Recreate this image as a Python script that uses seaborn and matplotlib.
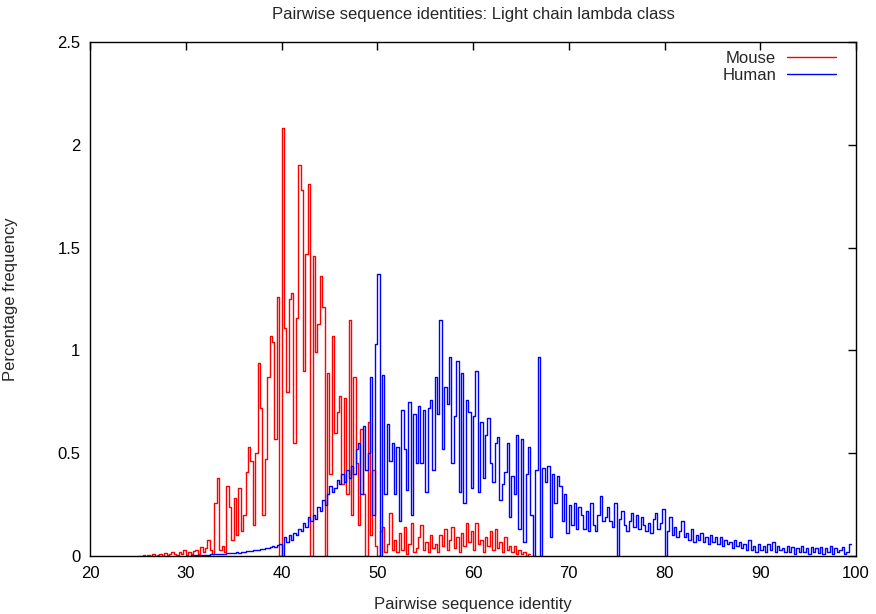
import numpy as np
import pandas as pd
import matplotlib
matplotlib.use("Agg")
import matplotlib.pyplot as plt
import seaborn as sns
from matplotlib.ticker import FuncFormatter

# Histogram bin layout (percent identity)
bin_width = 0.25
mouse_start = 25.0
human_start = 30.0

# Mouse: percentage frequency per bin, starting at 25%
mouse_freq = [
    0.0, 0.0, 0.005, 0.0, 0.005, 0.0, 0.01, 0.0,
    0.005, 0.01, 0.0, 0.015, 0.005, 0.01, 0.02, 0.01,
    0.005, 0.02, 0.01, 0.03, 0.005, 0.02, 0.01, 0.025,
    0.03, 0.01, 0.045, 0.02, 0.04, 0.08, 0.03, 0.01,
    0.26, 0.38, 0.03, 0.05, 0.02, 0.34, 0.24, 0.08,
    0.28, 0.10, 0.33, 0.12, 0.20, 0.41, 0.53, 0.46,
    0.15, 0.50, 0.94, 0.72, 0.20, 0.47, 0.87, 1.07,
    1.04, 0.57, 1.26, 0.00, 2.08, 1.11, 0.80, 1.25,
    1.28, 0.55, 1.16, 1.90, 1.78, 0.90, 1.47, 1.81,
    0.00, 1.46, 0.99, 1.13, 1.36, 1.21, 0.00, 0.89,
    0.40, 1.07, 0.60, 0.70, 0.78, 0.35, 0.77, 0.30,
    1.15, 0.20, 0.87, 0.45, 0.15, 0.62, 0.30, 0.00,
    0.65, 0.10, 0.42, 0.05, 0.00, 0.12, 0.14, 0.02,
    0.06, 0.21, 0.03, 0.08,
    0.02, 0.11, 0.03, 0.14, 0.01, 0.06, 0.16, 0.02,
    0.04, 0.09, 0.15, 0.03, 0.07, 0.02, 0.10, 0.04,
    0.06, 0.02, 0.10, 0.05, 0.13, 0.03, 0.08, 0.14,
    0.04, 0.09, 0.02, 0.11, 0.05, 0.16, 0.07, 0.12,
    0.03, 0.16, 0.06, 0.08, 0.02, 0.09, 0.05, 0.12,
    0.03, 0.13, 0.04, 0.07, 0.02, 0.09, 0.03, 0.05,
    0.02, 0.05, 0.01, 0.03, 0.01, 0.02, 0.0, 0.01,
]

# Human: percentage frequency per bin, starting at 30%
human_freq = [
    0.002, 0.002, 0.003, 0.003, 0.004, 0.004, 0.005, 0.005,
    0.006, 0.007, 0.008, 0.008, 0.009, 0.010, 0.010, 0.012,
    0.012, 0.013, 0.015, 0.014, 0.016, 0.018, 0.017, 0.020,
    0.020, 0.022, 0.025, 0.023, 0.028, 0.030, 0.028, 0.033,
    0.035, 0.040, 0.038, 0.045, 0.050, 0.045, 0.055, 0.060,
    0.00, 0.09, 0.07, 0.10, 0.08, 0.11, 0.10, 0.13,
    0.12, 0.16, 0.14, 0.19, 0.17, 0.20, 0.18, 0.24,
    0.22, 0.27, 0.25, 0.30, 0.34, 0.31, 0.33, 0.37,
    0.35, 0.40, 0.36, 0.42, 0.38, 0.44, 0.40, 0.52,
    0.55, 0.30, 0.63, 0.42, 0.50, 0.87, 0.20, 1.03,
    1.37, 0.00, 0.88, 0.30, 0.64, 0.46, 0.55, 0.30,
    0.53, 0.17, 0.71, 0.52, 0.32, 0.75, 0.20, 0.69,
    0.45, 0.73, 0.45, 0.71, 0.31, 0.72, 0.76, 0.42,
    0.87, 0.69, 1.15, 0.52, 0.82, 0.74, 0.97, 0.45,
    0.68, 0.95, 0.31, 0.89, 0.26, 0.76, 0.70, 0.33,
    0.68, 0.90, 0.31, 0.65, 0.38, 0.59, 0.67, 0.45,
    0.36, 0.55, 0.58, 0.27, 0.35, 0.41, 0.55, 0.19,
    0.39, 0.30, 0.59, 0.13, 0.57, 0.07, 0.40, 0.53,
    0.20, 0.00, 0.42, 0.97, 0.00, 0.43, 0.36, 0.44,
    0.09, 0.40, 0.26, 0.39, 0.34, 0.17, 0.30, 0.11,
    0.25, 0.15, 0.26, 0.13, 0.24, 0.20, 0.13, 0.22,
    0.12, 0.26, 0.15, 0.12, 0.20, 0.29, 0.17, 0.19,
    0.24, 0.17, 0.14, 0.26, 0.00, 0.18, 0.22, 0.15,
    0.12, 0.17, 0.21, 0.14, 0.20, 0.13, 0.19, 0.15,
    0.12, 0.16, 0.11, 0.18, 0.21, 0.13, 0.16, 0.23,
    0.00, 0.12, 0.19, 0.10, 0.14, 0.09, 0.12, 0.17,
    0.09, 0.11, 0.08, 0.13, 0.07, 0.10, 0.08, 0.11,
    0.07, 0.09, 0.06, 0.10, 0.07, 0.09, 0.06, 0.09,
    0.05, 0.08, 0.06, 0.07, 0.04, 0.08, 0.05, 0.07,
    0.04, 0.06, 0.03, 0.08, 0.03, 0.05, 0.02, 0.06,
    0.03, 0.05, 0.02, 0.06, 0.03, 0.07, 0.02, 0.05,
    0.03, 0.04, 0.02, 0.05, 0.02, 0.045, 0.01, 0.04,
    0.02, 0.05, 0.02, 0.04, 0.01, 0.045, 0.02, 0.04,
    0.015, 0.045, 0.01, 0.04, 0.02, 0.05, 0.01, 0.04,
    0.02, 0.03, 0.045, 0.01, 0.02, 0.06,
]

series_names = ["Mouse", "Human"]
series_colors = {"Mouse": "#ff0000", "Human": "#0000ff"}
x_ticks = [20, 30, 40, 50, 60, 70, 80, 90, 100]
y_ticks = [0, 0.5, 1, 1.5, 2, 2.5]


def step_frame(name, start, freq):
    # bin edges; the last value is repeated so the final bin gets its width
    edges = start + bin_width * np.arange(len(freq) + 1)
    vals = list(freq) + [freq[-1]]
    return pd.DataFrame({"identity": edges, "freq": vals, "series": name})


df = pd.concat([
    step_frame("Mouse", mouse_start, mouse_freq),
    step_frame("Human", human_start, human_freq),
], ignore_index=True)

sns.set_theme(style="white")
plt.rcParams["font.family"] = ["Liberation Sans", "DejaVu Sans"]
FS = 12

W, H = 876, 614
L, R, T, B = 90, 856, 42, 556
fig = plt.figure(figsize=(W / 100, H / 100), dpi=100)
ax = fig.add_axes([L / W, 1 - B / H, (R - L) / W, (B - T) / H])

sns.lineplot(data=df, x="identity", y="freq", hue="series",
             hue_order=series_names, palette=series_colors,
             estimator=None, sort=False, drawstyle="steps-post",
             linewidth=1.0, ax=ax, legend=True)

ax.set_xlim(20, 100)
ax.set_ylim(0, 2.5)
ax.set_xticks(x_ticks)
ax.set_yticks(y_ticks)
ax.yaxis.set_major_formatter(FuncFormatter(lambda v, p: f"{v:g}"))
ax.tick_params(direction="in", length=6, width=1, top=True, right=True,
               labelsize=FS, colors="black", pad=7)
for s in ax.spines.values():
    s.set_visible(True)
    s.set_color("black")
    s.set_linewidth(1.0)

ax.set_xlabel("Pairwise sequence identity", fontsize=FS)
ax.xaxis.set_label_coords(0.5, (B - 597) / (B - T), transform=ax.transAxes)
ax.set_ylabel("Percentage frequency", fontsize=FS)
ax.yaxis.set_label_coords((18 - L) / (R - L), 0.5, transform=ax.transAxes)
fig.text(0.5 * (L + R) / W, 1 - 14 / H,
         "Pairwise sequence identities: Light chain lambda class",
         fontsize=FS, ha="center", va="center")

handles, labels = ax.get_legend_handles_labels()
ax.legend(handles, labels, loc="upper right", frameon=False,
          markerfirst=False, fontsize=FS, handlelength=2.95,
          handletextpad=0.65, labelspacing=0.1, borderpad=0,
          borderaxespad=0,
          bbox_to_anchor=((836 - L) / (R - L), (B - 51) / (B - T)))

fig.savefig("out.png", dpi=100)
